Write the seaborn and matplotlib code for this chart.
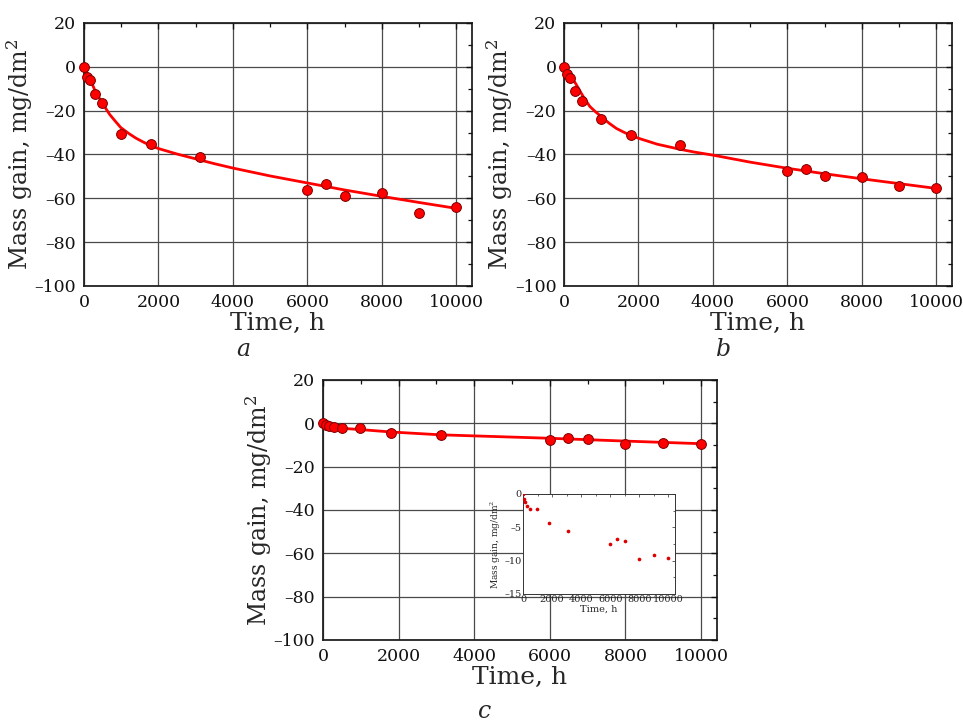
import numpy as np
import pandas as pd
import matplotlib
matplotlib.use("Agg")
import matplotlib.pyplot as plt
import seaborn as sns
from matplotlib.ticker import MultipleLocator, FuncFormatter

# measured points (time, h / mass gain, mg/dm2)
time_h = [0, 70, 160, 290, 490, 990, 1790, 3120, 6000, 6490, 7000, 8000, 9000, 10000]
mass_a = [0, -4.5, -6.0, -12.6, -16.3, -30.5, -35.0, -41.0, -56.0, -53.6, -59.0, -57.5, -66.7, -64.0]
mass_b = [0, -3.3, -5.0, -11.0, -15.8, -23.8, -31.3, -35.8, -47.5, -46.7, -49.9, -50.2, -54.3, -55.4]
mass_c = [0, -0.7, -1.2, -1.8, -2.3, -2.3, -4.3, -5.5, -7.5, -6.8, -7.1, -9.7, -9.2, -9.6]

# fitted curves
fit_t_a = [0, 80, 160, 293, 400, 489, 600, 693, 850, 987, 1200, 1400, 1600, 1787, 2000, 2500,
           3000, 3500, 4000, 5000, 6000, 7000, 8000, 9000, 10000]
fit_a = [0, -2.8, -5.5, -10.7, -14.0, -16.3, -19.4, -21.8, -25.0, -27.7, -30.4, -32.6, -34.4,
         -35.9, -37.3, -39.8, -42.0, -44.2, -46.2, -49.8, -53.0, -56.2, -59.1, -61.9, -64.6]

fit_t_b = [0, 160, 338, 516, 693, 850, 987, 1200, 1404, 1600, 1769, 2000, 2500, 3102, 3500,
           4000, 5000, 6000, 7000, 8000, 9000, 10000]
fit_b = [0, -3.3, -8.4, -13.6, -18.1, -20.6, -22.5, -25.6, -28.1, -29.8, -31.1, -32.6, -35.3,
         -37.6, -38.9, -40.3, -43.5, -46.3, -48.8, -51.1, -53.3, -55.5]

fit_t_c = [0, 100, 300, 500, 1000, 1800, 3100, 4000, 6000, 8000, 10000]
fit_c = [0, -1.2, -1.9, -2.3, -2.9, -4.0, -5.3, -5.8, -6.9, -8.2, -9.4]

x_ticks = [0, 2000, 4000, 6000, 8000, 10000]
y_ticks = [-100, -80, -60, -40, -20, 0, 20]
inset_y_ticks = [-15, -10, -5, 0]

sns.set_theme(style="white")
plt.rcParams["font.family"] = ["DejaVu Serif"]
plt.rcParams["mathtext.fontset"] = "dejavuserif"

fig = plt.figure(figsize=(9.63, 7.22), dpi=100)

rect_a = [0.0872, 0.6039, 0.4029, 0.3643]
rect_b = [0.5857, 0.6039, 0.4029, 0.3643]
rect_c = [0.3354, 0.1136, 0.4090, 0.3601]

dash_fmt = FuncFormatter(lambda v, p: f"{v:g}".replace("-", "\u2013"))


def set_limits(ax, xmax, ylo, yhi, yt, ymin_step):
    ax.set_xlim(0, xmax)
    ax.set_ylim(ylo, yhi)
    ax.set_xticks(x_ticks)
    ax.set_yticks(yt)
    ax.xaxis.set_minor_locator(MultipleLocator(1000))
    ax.yaxis.set_minor_locator(MultipleLocator(ymin_step))


def style_main(ax, rect):
    set_limits(ax, 10420, -100, 20, y_ticks, 10)
    ax.xaxis.set_major_formatter(dash_fmt)
    ax.yaxis.set_major_formatter(dash_fmt)
    for s in ax.spines.values():
        s.set_color("#222222")
        s.set_linewidth(1.3)
    ax.tick_params(which="both", direction="out", colors="#111111", pad=1)
    ax.tick_params(which="major", length=4.5, width=1.1, labelsize=12.5)
    ax.tick_params(which="minor", length=3, width=1.0)
    ax.grid(True, which="major", color="#4a4a4a", linewidth=0.9)
    ax.set_xlabel("Time, h", fontsize=18, labelpad=1)
    ax.set_ylabel("Mass gain, mg/dm$^2$", fontsize=17, labelpad=0)
    # overlay for inward ticks on the top and right sides
    ov = fig.add_axes(rect, frameon=False)
    ov.patch.set_alpha(0)
    set_limits(ov, 10420, -100, 20, y_ticks, 10)
    ov.tick_params(which="both", direction="in", left=False, bottom=False,
                   top=True, right=True, labelleft=False, labelbottom=False,
                   colors="#111111")
    ov.tick_params(which="major", length=4.5, width=1.0)
    ov.tick_params(which="minor", length=3, width=0.9)
    ov.set_zorder(ax.get_zorder() + 0.5)


panels = [
    (rect_a, mass_a, fit_t_a, fit_a, "a", -0.243),
    (rect_b, mass_b, fit_t_b, fit_b, "b", -0.243),
    (rect_c, mass_c, fit_t_c, fit_c, "c", -0.277),
]

main_axes = []
for rect, mass, ft, fv, letter, ly in panels:
    ax = fig.add_axes(rect)
    pts = pd.DataFrame({"t": time_h, "m": mass})
    fit = pd.DataFrame({"t": ft, "m": fv})
    sns.lineplot(data=fit, x="t", y="m", ax=ax, color="#ff0000", linewidth=2.0, zorder=3)
    sns.scatterplot(data=pts, x="t", y="m", ax=ax, color="#ff0000", edgecolor="#7a0000",
                    linewidth=0.7, s=50, zorder=4, clip_on=False)
    style_main(ax, rect)
    ax.text(0.41, ly, letter, transform=ax.transAxes, fontsize=17,
            style="italic", ha="center", va="center")
    main_axes.append(ax)

# inset in panel c
ax_in = fig.add_axes([0.5431, 0.1773, 0.1578, 0.1385])
ax_in.set_zorder(10)
ins = pd.DataFrame({"t": time_h, "m": mass_c})
sns.scatterplot(data=ins, x="t", y="m", ax=ax_in, color="#dd0000", edgecolor="#dd0000",
                s=7, linewidth=0, zorder=3)
set_limits(ax_in, 10450, -15, 0, inset_y_ticks, 2.5)
ax_in.xaxis.set_major_formatter(dash_fmt)
ax_in.yaxis.set_major_formatter(dash_fmt)
for s in ax_in.spines.values():
    s.set_color("#333333")
    s.set_linewidth(0.7)
ax_in.tick_params(which="both", direction="in", top=True, right=True,
                  length=2.5, width=0.5, labelsize=7, pad=1)
ax_in.tick_params(which="minor", length=1.5)
ax_in.set_xlabel("Time, h", fontsize=7, labelpad=0)
ax_in.set_ylabel("Mass gain, mg/dm$^2$", fontsize=6.5, labelpad=1)
ax_in.set_facecolor("white")

fig.savefig("out.png", dpi=100)
